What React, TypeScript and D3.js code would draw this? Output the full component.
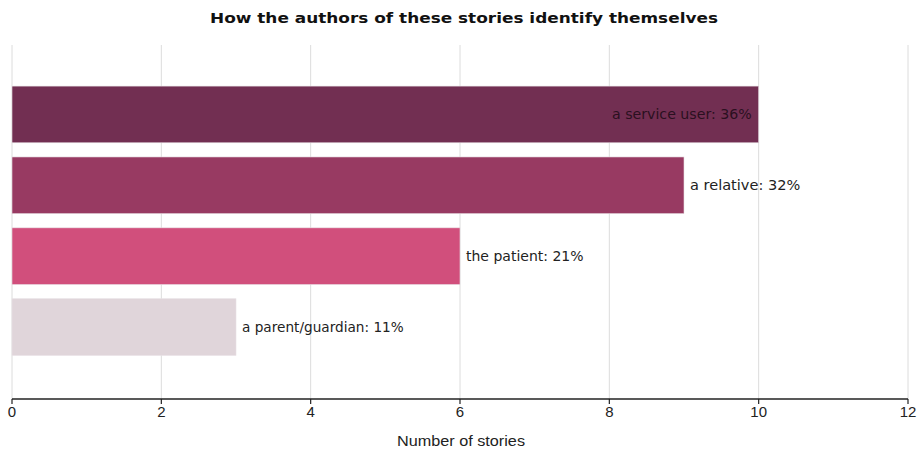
import React from "react";
import * as d3 from "d3";

const categories = ["a service user", "a relative", "the patient", "a parent/guardian"];
const values = [10, 9, 6, 3];
const percents = ["36%", "32%", "21%", "11%"];
const colors = ["#722F52", "#983A62", "#D14F7C", "#E0D5DA"];
const xTicks = [0, 2, 4, 6, 8, 10, 12];

export default function App() {
  const W = 918, H = 456;
  const x = d3.scaleLinear().domain([0, 12]).range([12, 908]);
  const y = d3.scaleBand<string>().domain(categories).range([79, 362.5]).paddingInner(0.2).paddingOuter(0.1);
  const gridTop = 45, axisY = 399;
  const labelLen = (s: string) => s.length * 7.35;
  return (
    <svg width={W} height={H} style={{ position: "absolute", left: 0, top: 0 }}>
      <rect width={W} height={H} fill="#fff" />
      <text x={464} y={23} textAnchor="middle" fontFamily="DejaVu Sans, Verdana" fontWeight="bold" fontSize={14.5} fill="#111" textLength={508} lengthAdjust="spacingAndGlyphs">
        How the authors of these stories identify themselves
      </text>
      {xTicks.map((t) => (
        <line key={"g" + t} x1={x(t)} x2={x(t)} y1={gridTop} y2={axisY} stroke="#dcdcdc" strokeWidth={1} />
      ))}
      {categories.map((c, i) => (
        <rect key={c} x={x(0)} y={y(c)} width={x(values[i]) - x(0)} height={y.bandwidth()} fill={colors[i]} stroke="#e8e0e4" strokeWidth={0.6} />
      ))}
      {categories.map((c, i) => {
        const inside = i === 0;
        const cx = inside ? x(values[i]) - 7 : x(values[i]) + 6;
        const label = `${c}: ${percents[i]}`;
        return (
          <text key={"l" + c} x={cx} y={(y(c) as number) + y.bandwidth() / 2} dy="0.35em" textAnchor={inside ? "end" : "start"} fontFamily="DejaVu Sans, Verdana" fontSize={13.5} fill={inside ? "#2a1020" : "#222"} textLength={labelLen(label)} lengthAdjust="spacingAndGlyphs">
            {label}
          </text>
        );
      })}
      <line x1={x(0)} x2={x(12)} y1={axisY} y2={axisY} stroke="#222" strokeWidth={1.5} />
      {xTicks.map((t) => (
        <g key={"t" + t} transform={`translate(${x(t)},0)`}>
          <line y1={axisY} y2={axisY + 5} stroke="#222" strokeWidth={1.2} />
          <text y={axisY + 18} textAnchor="middle" fontFamily="Liberation Sans, Arial" fontSize={15} fill="#222">{t}</text>
        </g>
      ))}
      <text x={461} y={446} textAnchor="middle" fontFamily="Liberation Sans, Arial" fontSize={14} fill="#222" textLength={128} lengthAdjust="spacingAndGlyphs">Number of stories</text>
    </svg>
  );
}
